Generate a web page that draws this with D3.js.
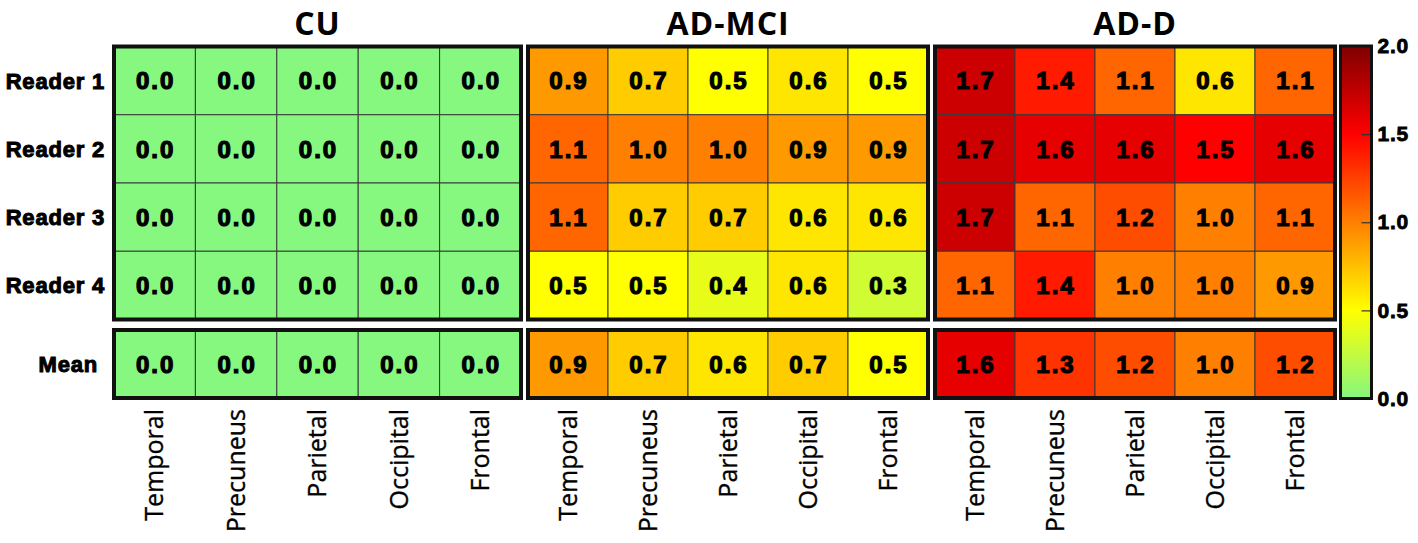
<!DOCTYPE html>
<html>
<head>
<meta charset="utf-8">
<script src="https://cdnjs.cloudflare.com/ajax/libs/d3/7.8.5/d3.min.js"></script>
<style>
  body { margin: 0; background: #fff; }
  svg { display: block; }
</style>
</head>
<body>
<div id="heatmap"></div>
<script>
// data
var groups = ["CU", "AD-MCI", "AD-D"];
var readers = ["Reader 1", "Reader 2", "Reader 3", "Reader 4"];
var regions = ["Temporal", "Precuneus", "Parietal", "Occipital", "Frontal"];

var cuReaders = [
  [0.0, 0.0, 0.0, 0.0, 0.0],
  [0.0, 0.0, 0.0, 0.0, 0.0],
  [0.0, 0.0, 0.0, 0.0, 0.0],
  [0.0, 0.0, 0.0, 0.0, 0.0]
];
var mciReaders = [
  [0.9, 0.7, 0.5, 0.6, 0.5],
  [1.1, 1.0, 1.0, 0.9, 0.9],
  [1.1, 0.7, 0.7, 0.6, 0.6],
  [0.5, 0.5, 0.4, 0.6, 0.3]
];
var addReaders = [
  [1.7, 1.4, 1.1, 0.6, 1.1],
  [1.7, 1.6, 1.6, 1.5, 1.6],
  [1.7, 1.1, 1.2, 1.0, 1.1],
  [1.1, 1.4, 1.0, 1.0, 0.9]
];
var cuMean = [0.0, 0.0, 0.0, 0.0, 0.0];
var mciMean = [0.9, 0.7, 0.6, 0.7, 0.5];
var addMean = [1.6, 1.3, 1.2, 1.0, 1.2];

var colorTicks = [0.0, 0.5, 1.0, 1.5, 2.0];
var colorStops = ["#86f77f", "#ffff00", "#ff8000", "#ff0000", "#800000"];

var svgWidth = 1418;
var svgHeight = 543;

// panel extents (outer edge of the thick frame)
var panelLeft = [112, 526, 933];
var panelRight = [523, 930, 1337];
var topPanel = { top: 44.5, bottom: 321.5 };
var meanPanel = { top: 328, bottom: 400 };
var frame = 4;

var svg = d3.select("#heatmap")
  .append("svg")
  .attr("width", svgWidth)
  .attr("height", svgHeight);

var color = d3.scaleLinear()
  .domain(colorTicks)
  .range(colorStops)
  .clamp(true);

var yReader = d3.scaleBand()
  .domain(readers)
  .range([topPanel.top + frame / 2, topPanel.bottom - frame / 2]);

var yMean = d3.scaleBand()
  .domain(["Mean"])
  .range([meanPanel.top + frame / 2, meanPanel.bottom - frame / 2]);

var groupData = [
  { name: groups[0], readers: cuReaders, mean: cuMean },
  { name: groups[1], readers: mciReaders, mean: mciMean },
  { name: groups[2], readers: addReaders, mean: addMean }
];

var numFont = "'Liberation Sans', Arial, sans-serif";

groupData.forEach(function(g, gi) {
  var x = d3.scaleBand()
    .domain(regions)
    .range([panelLeft[gi] + frame / 2, panelRight[gi] - frame / 2]);

  var panel = svg.append("g").attr("class", "panel");

  // flatten reader rows + mean row into cells
  var cells = [];
  g.readers.forEach(function(row, ri) {
    row.forEach(function(v, ci) {
      cells.push({ y: yReader(readers[ri]), h: yReader.bandwidth(), region: regions[ci], value: v });
    });
  });
  g.mean.forEach(function(v, ci) {
    cells.push({ y: yMean("Mean"), h: yMean.bandwidth(), region: regions[ci], value: v });
  });

  panel.selectAll("rect.cell")
    .data(cells)
    .enter()
    .append("rect")
    .attr("class", "cell")
    .attr("x", d => x(d.region))
    .attr("y", d => d.y)
    .attr("width", x.bandwidth())
    .attr("height", d => d.h)
    .attr("fill", d => color(d.value))
    .attr("stroke", "#3a3a3a")
    .attr("stroke-width", 1);

  panel.selectAll("text.val")
    .data(cells)
    .enter()
    .append("text")
    .attr("class", "val")
    .attr("x", d => x(d.region) + x.bandwidth() / 2 + 1)
    .attr("y", d => d.y + d.h / 2)
    .attr("dy", "0.36em")
    .attr("text-anchor", "middle")
    .style("font-family", numFont)
    .style("font-weight", "bold")
    .style("font-size", "24px")
    .style("letter-spacing", "2px")
    .attr("fill", "#000")
    .attr("stroke", "#000")
    .attr("stroke-width", 1.2)
    .text(d => d.value.toFixed(1));

  // thick frames
  [topPanel, meanPanel].forEach(function(p) {
    panel.append("rect")
      .attr("x", panelLeft[gi] + frame / 2)
      .attr("y", p.top + frame / 2)
      .attr("width", panelRight[gi] - panelLeft[gi] - frame)
      .attr("height", p.bottom - p.top - frame)
      .attr("fill", "none")
      .attr("stroke", "#111")
      .attr("stroke-width", frame);
  });

  // group title
  svg.append("text")
    .attr("x", (panelLeft[gi] + panelRight[gi]) / 2)
    .attr("y", 35)
    .attr("text-anchor", "middle")
    .style("font-family", "'Open Sans', sans-serif")
    .style("font-weight", "bold")
    .style("font-size", "32px")
    .style("letter-spacing", "1px")
    .text(g.name);

  // rotated region labels
  panel.selectAll("text.region")
    .data(regions)
    .enter()
    .append("text")
    .attr("class", "region")
    .attr("transform", d => `translate(${x(d) + x.bandwidth() / 2}, 409) rotate(-90)`)
    .attr("dy", "0.35em")
    .attr("text-anchor", "end")
    .style("font-family", "'Open Sans', sans-serif")
    .style("font-size", "25px")
    .attr("fill", "#000")
    .attr("stroke", "#000")
    .attr("stroke-width", 0.35)
    .text(d => d);
});

// row labels
svg.selectAll("text.reader")
  .data(readers)
  .enter()
  .append("text")
  .attr("class", "reader")
  .attr("x", 105)
  .attr("y", d => yReader(d) + yReader.bandwidth() / 2)
  .attr("dy", "0.36em")
  .attr("text-anchor", "end")
  .style("font-family", numFont)
  .style("font-weight", "bold")
  .style("font-size", "22px")
  .style("letter-spacing", "0.8px")
  .attr("stroke", "#000")
  .attr("stroke-width", 1)
  .text(d => d);

svg.append("text")
  .attr("x", 98)
  .attr("y", yMean("Mean") + yMean.bandwidth() / 2)
  .attr("dy", "0.36em")
  .attr("text-anchor", "end")
  .style("font-family", numFont)
  .style("font-weight", "bold")
  .style("font-size", "22px")
  .style("letter-spacing", "0.8px")
  .attr("stroke", "#000")
  .attr("stroke-width", 1)
  .text("Mean");

// colour bar
var bar = { left: 1340.5, right: 1371.5, top: 46, bottom: 398.5 };

var yColor = d3.scaleLinear()
  .domain([0, 2])
  .range([bar.bottom, bar.top]);

var grad = svg.append("defs")
  .append("linearGradient")
  .attr("id", "cbar")
  .attr("x1", 0).attr("y1", 1)
  .attr("x2", 0).attr("y2", 0);

grad.selectAll("stop")
  .data(colorTicks)
  .enter()
  .append("stop")
  .attr("offset", d => d / 2)
  .attr("stop-color", d => color(d));

svg.append("rect")
  .attr("x", bar.left)
  .attr("y", bar.top)
  .attr("width", bar.right - bar.left)
  .attr("height", bar.bottom - bar.top)
  .attr("fill", "url(#cbar)");

var colorAxis = svg.append("g")
  .attr("transform", `translate(${bar.right}, 0)`)
  .call(d3.axisRight(yColor)
    .tickValues(colorTicks)
    .tickFormat(d3.format(".1f"))
    .tickSize(-10)
    .tickPadding(6));

colorAxis.select(".domain").remove();
colorAxis.selectAll(".tick line")
  .attr("stroke", "#333")
  .attr("stroke-width", 1.2);
colorAxis.selectAll(".tick text")
  .style("font-family", numFont)
  .style("font-weight", "bold")
  .style("font-size", "21px")
  .style("letter-spacing", "0.8px")
  .attr("fill", "#000")
  .attr("stroke", "#000")
  .attr("stroke-width", 0.8);

svg.append("rect")
  .attr("x", bar.left)
  .attr("y", bar.top)
  .attr("width", bar.right - bar.left)
  .attr("height", bar.bottom - bar.top)
  .attr("fill", "none")
  .attr("stroke", "#111")
  .attr("stroke-width", 3);
</script>
</body>
</html>
